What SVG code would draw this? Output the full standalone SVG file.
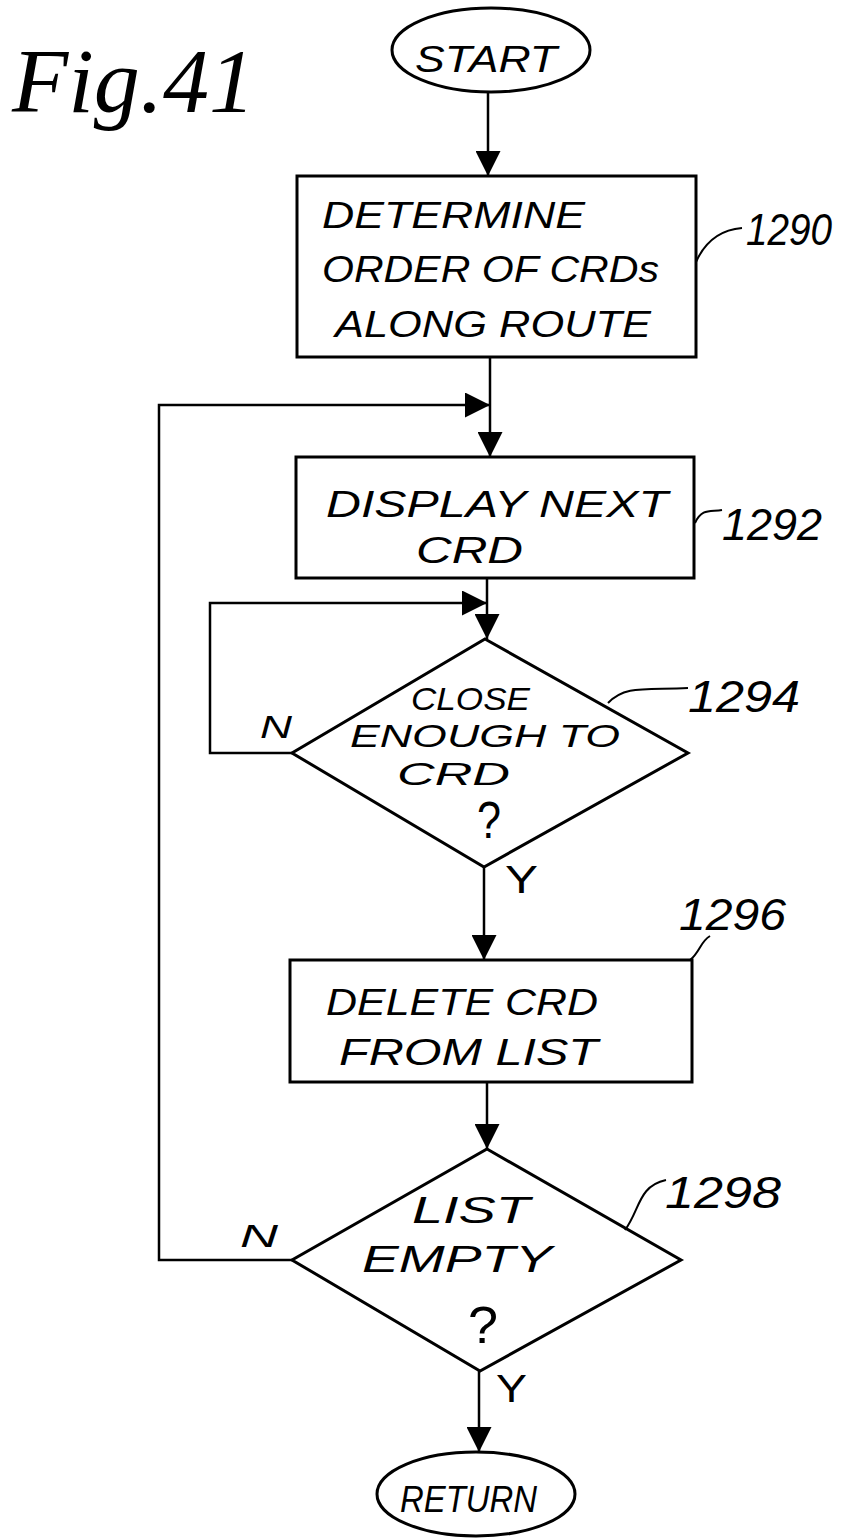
<svg xmlns="http://www.w3.org/2000/svg" width="847" height="1538" viewBox="0 0 847 1538">
<style>
.shape{fill:none;stroke:#000;stroke-width:3}
.conn{fill:none;stroke:#000;stroke-width:2.5}
.lead{fill:none;stroke:#000;stroke-width:2}
.t{font-family:"Liberation Sans",Arial,sans-serif;font-style:italic;font-size:37px;fill:#000}
.d{font-family:"Liberation Sans",Arial,sans-serif;font-style:italic;font-size:32px;fill:#000}
.num{font-family:"Liberation Sans",Arial,sans-serif;font-style:italic;font-size:44px;fill:#000}
.yn{font-family:"Liberation Sans",Arial,sans-serif;font-size:38px;fill:#000}
.q{font-family:"Liberation Sans",Arial,sans-serif;font-size:52px;fill:#000}
.fig{font-family:"Liberation Serif","Times New Roman",serif;font-style:italic;font-size:92px;fill:#000}
</style>
<defs>
<marker id="ah" viewBox="0 0 10 10" refX="10" refY="5" markerWidth="25" markerHeight="25" markerUnits="userSpaceOnUse" orient="auto">
<path d="M0,0 L10,5 L0,10 z" fill="#000"/>
</marker>
</defs>

<text class="fig" x="12" y="112" textLength="243" lengthAdjust="spacingAndGlyphs">Fig.41</text>

<g id="connectors">
<line class="conn" x1="488" y1="92" x2="488" y2="176" marker-end="url(#ah)"/>
<line class="conn" x1="490" y1="357" x2="490" y2="457" marker-end="url(#ah)"/>
<line class="conn" x1="487" y1="578" x2="487" y2="639" marker-end="url(#ah)"/>
<line class="conn" x1="484" y1="867" x2="484" y2="960" marker-end="url(#ah)"/>
<line class="conn" x1="487" y1="1082" x2="487" y2="1149" marker-end="url(#ah)"/>
<line class="conn" x1="479" y1="1371" x2="479" y2="1452" marker-end="url(#ah)"/>
<polyline class="conn" points="292,753 210,753 210,603 487,603" marker-end="url(#ah)"/>
<polyline class="conn" points="292,1260 159,1260 159,405 490,405" marker-end="url(#ah)"/>
<text class="d" x="260" y="738" textLength="32" lengthAdjust="spacingAndGlyphs">N</text>
<text class="yn" x="505" y="893" textLength="33" lengthAdjust="spacingAndGlyphs">Y</text>
<text class="d" x="240" y="1247" textLength="38" lengthAdjust="spacingAndGlyphs">N</text>
<text class="yn" x="496" y="1402" textLength="31" lengthAdjust="spacingAndGlyphs">Y</text>
</g>

<g id="start">
<ellipse class="shape" cx="491" cy="50" rx="99" ry="42"/>
<text class="t" x="415" y="72" textLength="142" lengthAdjust="spacingAndGlyphs">START</text>
</g>

<g id="n1290">
<rect class="shape" x="297" y="176" width="399" height="181"/>
<text class="t" x="322" y="228" textLength="263" lengthAdjust="spacingAndGlyphs">DETERMINE</text>
<text class="t" x="322" y="282" textLength="337" lengthAdjust="spacingAndGlyphs">ORDER OF CRDs</text>
<text class="t" x="335" y="337" textLength="316" lengthAdjust="spacingAndGlyphs">ALONG ROUTE</text>
<path class="lead" d="M696,262 C704,244 718,230 742,228"/>
<text class="num" x="746" y="245" textLength="86" lengthAdjust="spacingAndGlyphs">1290</text>
</g>

<g id="n1292">
<rect class="shape" x="296" y="457" width="398" height="121"/>
<text class="t" x="326" y="517" textLength="342" lengthAdjust="spacingAndGlyphs">DISPLAY NEXT</text>
<text class="t" x="416" y="563" textLength="107" lengthAdjust="spacingAndGlyphs">CRD</text>
<path class="lead" d="M695,523 C702,508 710,512 722,510"/>
<text class="num" x="722" y="540" textLength="100" lengthAdjust="spacingAndGlyphs">1292</text>
</g>

<g id="n1294">
<polygon class="shape" points="485,639 688,753 484,867 292,753"/>
<text class="d" x="411" y="710" textLength="119" lengthAdjust="spacingAndGlyphs">CLOSE</text>
<text class="d" x="350" y="747" textLength="270" lengthAdjust="spacingAndGlyphs">ENOUGH TO</text>
<text class="d" x="397" y="785" textLength="113" lengthAdjust="spacingAndGlyphs">CRD</text>
<text class="q" x="477" y="838" textLength="24" lengthAdjust="spacingAndGlyphs">?</text>
<path class="lead" d="M608,703 C625,685 645,690 688,688"/>
<text class="num" x="688" y="712" textLength="112" lengthAdjust="spacingAndGlyphs">1294</text>
</g>

<g id="n1296">
<rect class="shape" x="290" y="960" width="402" height="122"/>
<text class="t" x="326" y="1015" textLength="272" lengthAdjust="spacingAndGlyphs">DELETE  CRD</text>
<text class="t" x="339" y="1065" textLength="259" lengthAdjust="spacingAndGlyphs">FROM LIST</text>
<path class="lead" d="M690,960 C700,952 700,942 710,936"/>
<text class="num" x="679" y="930" textLength="107" lengthAdjust="spacingAndGlyphs">1296</text>
</g>

<g id="n1298">
<polygon class="shape" points="487,1149 681,1260 480,1371 292,1260"/>
<text class="t" x="412" y="1223" textLength="118" lengthAdjust="spacingAndGlyphs">LIST</text>
<text class="t" x="362" y="1272" textLength="190" lengthAdjust="spacingAndGlyphs">EMPTY</text>
<text class="q" x="468" y="1343" textLength="30" lengthAdjust="spacingAndGlyphs">?</text>
<path class="lead" d="M625,1230 C640,1210 638,1186 666,1180"/>
<text class="num" x="665" y="1208" textLength="116" lengthAdjust="spacingAndGlyphs">1298</text>
</g>

<g id="return">
<ellipse class="shape" cx="476" cy="1494" rx="99" ry="42"/>
<text class="t" x="400" y="1512" textLength="137" lengthAdjust="spacingAndGlyphs">RETURN</text>
</g>
</svg>
